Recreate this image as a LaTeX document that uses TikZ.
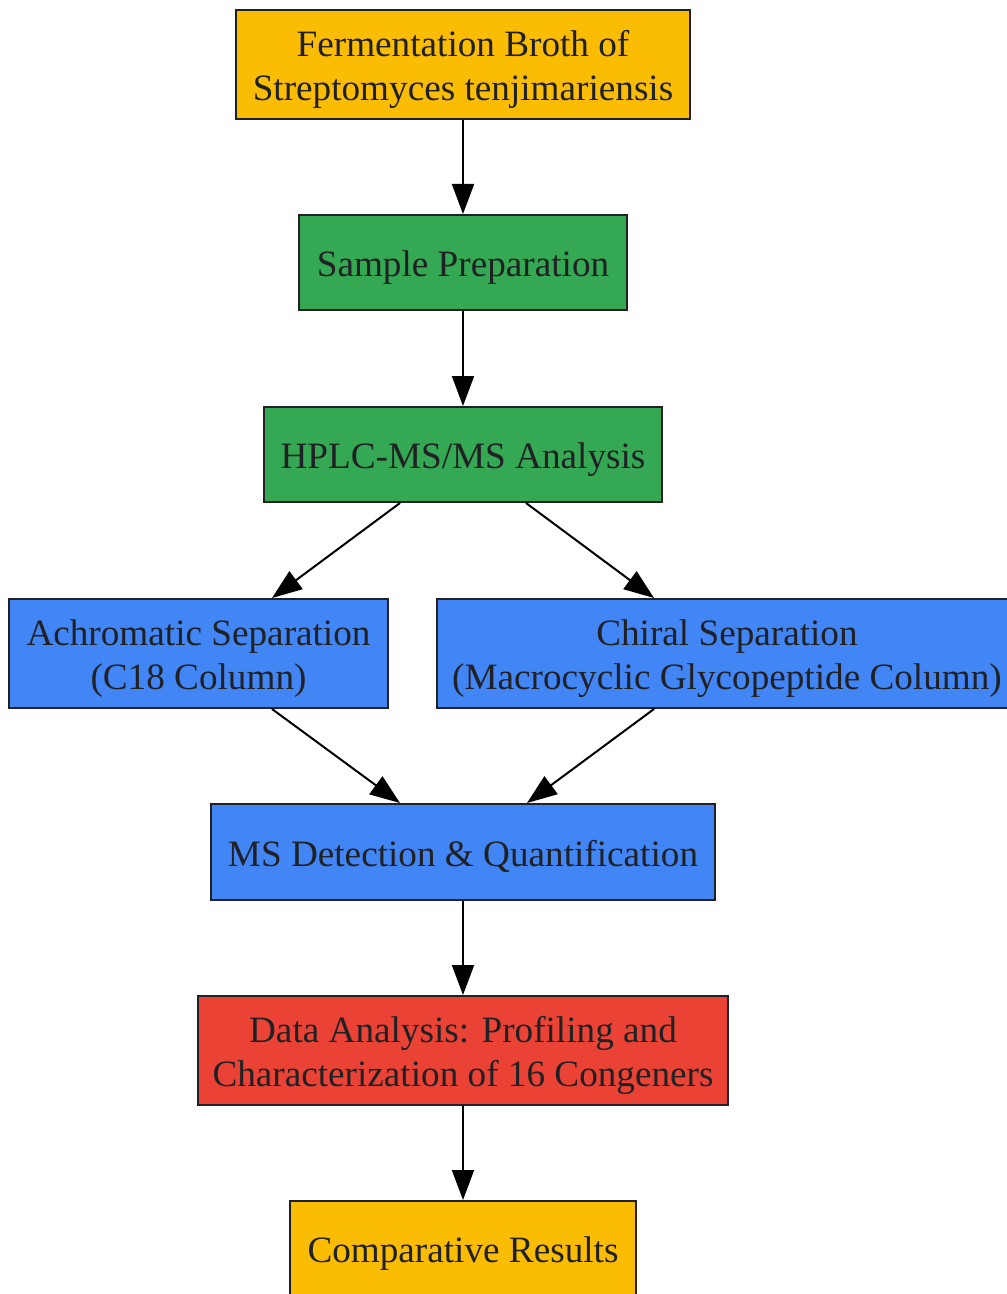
\documentclass[tikz,border=0pt]{standalone}
\usepackage{fontspec}
\setmainfont{Liberation Serif}
\usetikzlibrary{arrows.meta,calc}
\definecolor{txt}{HTML}{202124}
\definecolor{gyellow}{HTML}{FBBC04}
\definecolor{ggreen}{HTML}{34A853}
\definecolor{gblue}{HTML}{4285F4}
\definecolor{gred}{HTML}{EA4335}
\definecolor{edge}{HTML}{202124}
\newcommand\onest{\rule[-2.6pt]{0pt}{20.6pt}}
\newcommand\topst{\rule{0pt}{18pt}}
\newcommand\botst{\rule[-4.2pt]{0pt}{4.2pt}}
\begin{document}
\begin{tikzpicture}[x=0.5pt,y=-0.5pt,
  box/.style={draw=edge,line width=1pt,text=txt,inner sep=0pt,align=center,
    font=\fontsize{18.6pt}{22pt}\selectfont},
  conn/.style={line width=1pt,draw=black,-{Triangle[length=15pt,width=11pt]}}]
\useasboundingbox (0,0) rectangle (1006,1294);
\node[box,fill=gyellow,minimum width=227pt,minimum height=54.5pt] (ferm) at (463,64.5) {\topst Fermentation Broth of\\Streptomyces tenjimariensis\botst};
\node[box,fill=ggreen,minimum width=164pt,minimum height=47.5pt] (prep) at (463,262.5) {\onest Sample Preparation};
\node[box,fill=ggreen,minimum width=199pt,minimum height=47.5pt] (hplc) at (463,454.5) {\onest HPLC-MS/MS Analysis};
\node[box,fill=gblue,minimum width=189.5pt,minimum height=54.5pt] (achro) at (198.5,653.5) {\topst Achromatic Separation\\(C18 Column)\botst};
\node[box,fill=gblue,minimum width=290pt,minimum height=54.5pt] (chiral) at (727,653.5) {\topst Chiral Separation\\(Macrocyclic Glycopeptide Column)\botst};
\node[box,fill=gblue,minimum width=252pt,minimum height=48pt] (msdet) at (463,852) {\onest MS Detection \& Quantification};
\node[box,fill=gred,minimum width=265pt,minimum height=54.5pt] (data) at (463,1050.5) {\topst Data Analysis: Profiling and\\Characterization of 16 Congeners\botst};
\node[box,fill=gyellow,minimum width=173pt,minimum height=47.5pt] (comp) at (463,1248.5) {\onest Comparative Results};
\draw[conn] (ferm.south) -- (prep.north);
\draw[conn] (prep.south) -- (hplc.north);
\draw[conn] ($(hplc.south)+(-63,0)$) -- ($(achro.north)+(73.5,0)$);
\draw[conn] ($(hplc.south)+(63,0)$) -- ($(chiral.north)+(-73,0)$);
\draw[conn] ($(achro.south)+(73.5,0)$) -- ($(msdet.north)+(-63,0)$);
\draw[conn] ($(chiral.south)+(-73,0)$) -- ($(msdet.north)+(64,0)$);
\draw[conn] (msdet.south) -- (data.north);
\draw[conn] (data.south) -- (comp.north);
\end{tikzpicture}
\end{document}
